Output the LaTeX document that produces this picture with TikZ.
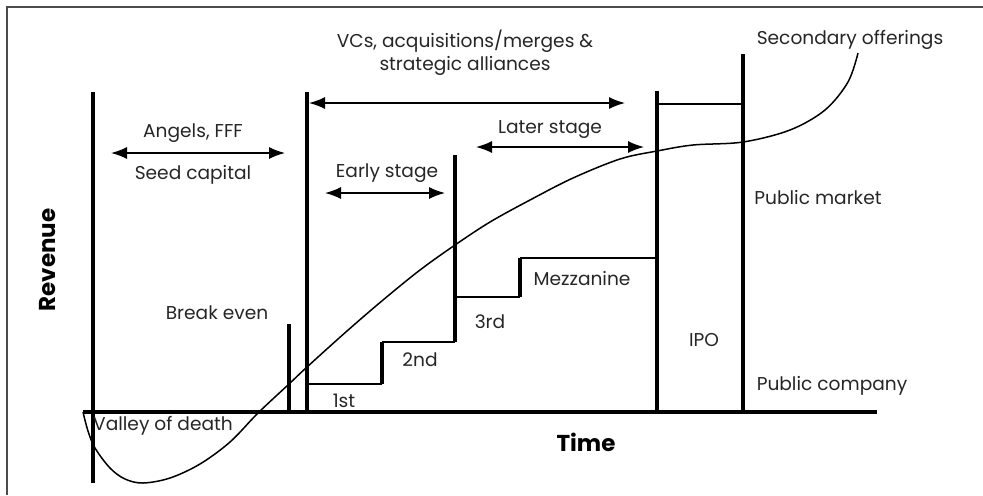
\documentclass[tikz,border=0pt]{standalone}
\usepackage{fontspec}
\setmainfont{Poppins}
\usetikzlibrary{arrows.meta}
\begin{document}
\begin{tikzpicture}[x=0.5pt,y=-0.5pt]
        \tikzset{bar/.style = {line width=1.6pt}}
        \tikzset{tread/.style = {line width=0.9pt}}
        \tikzset{span/.style = {{Latex[length=8pt,width=6pt]}-{Latex[length=8pt,width=6pt]}, line width=0.7pt}}
        \tikzset{lbl/.style = {font=\fontsize{9.3}{11.5}\selectfont, inner sep=0pt, text=black!85}}
        \tikzset{axlbl/.style = {font=\fontsize{11.5}{14}\selectfont\bfseries, inner sep=0pt}}

        \useasboundingbox (0,0) rectangle (983,495);

        \coordinate (f1) at (983,7);
        \coordinate (f2) at (7,7);
        \coordinate (f3) at (7,495);
        \draw[black!70, line width=0.6pt] (f1) -- (f2) -- (f3);

        \coordinate (ax0) at (83,412);
        \coordinate (ax1) at (877,412);

        \coordinate (v1a) at (93,92);
        \coordinate (v1b) at (93,483);
        \coordinate (bea) at (289,324);
        \coordinate (beb) at (289,412);
        \coordinate (v2a) at (307,92);
        \coordinate (v2b) at (307,412);
        \coordinate (v3a) at (455,155);
        \coordinate (v4a) at (657,91);
        \coordinate (v4b) at (657,412);
        \coordinate (v5a) at (743,54);
        \coordinate (v5b) at (743,412);

        \coordinate (s1) at (307,384);
        \coordinate (s2) at (382,384);
        \coordinate (s3) at (382,342);
        \coordinate (s4) at (455,342);
        \coordinate (s5) at (455,297);
        \coordinate (s6) at (520,297);
        \coordinate (s7) at (520,258);
        \coordinate (s8) at (657,258);

        \coordinate (ipoa) at (657,104);
        \coordinate (ipob) at (743,104);

        \coordinate (vca) at (309,103);
        \coordinate (vcb) at (625,103);
        \coordinate (ana) at (111,153);
        \coordinate (anb) at (285,153);
        \coordinate (esa) at (325,193);
        \coordinate (esb) at (445,193);
        \coordinate (lsa) at (476,147);
        \coordinate (lsb) at (644,147);

        \draw[bar] (v1a) -- (v1b);
        \draw[bar] (bea) -- (beb);
        \draw[bar] (v2a) -- (v2b);
        \draw[bar] (v3a) -- (s4);
        \draw[bar] (v4a) -- (v4b);
        \draw[bar] (v5a) -- (v5b);
        \draw[bar] (ax0) -- (ax1);

        \draw[tread] (s1) -- (s2);
        \draw[bar] (s2) -- (s3);
        \draw[tread] (s3) -- (s4);
        \draw[tread] (s5) -- (s6);
        \draw[bar] (s6) -- (s7);
        \draw[tread] (s7) -- (s8);
        \draw[line width=0.65pt] (ipoa) -- (ipob);

        \draw[span] (vca) -- (vcb);
        \draw[span] (ana) -- (anb);
        \draw[span] (esa) -- (esb);
        \draw[span] (lsa) -- (lsb);

        \draw[line width=0.75pt] plot[smooth, tension=0.55] coordinates {(83,412) (88,431) (95,448) (110,468) (125,479) (143,483) (170,478) (200,464) (230,442) (258,413) (289,384) (307,367) (347,331) (383,300) (420,270) (455,245) (490,222) (530,200) (573,178) (620,159) (657,151) (693,145) (743,142) (790,130) (825,110) (848,82) (858,53)};

        \node[lbl, align=center] (vcs) at (465,53) {VCs, acquisitions/merges \&\\strategic alliances};
        \node[lbl] (sec) at (850,40) {Secondary offerings};
        \node[lbl] (ang) at (193,133) {Angels, FFF};
        \node[lbl] (seed) at (193,175) {Seed capital};
        \node[lbl] (early) at (387,173) {Early stage};
        \node[lbl] (later) at (550,130) {Later stage};
        \node[lbl] (pubm) at (818,197) {Public market};
        \node[lbl] (brk) at (217,313) {Break even};
        \node[lbl] (mezz) at (582,278) {Mezzanine};
        \node[lbl] (third) at (490,322) {3rd};
        \node[lbl] (second) at (420,360) {2nd};
        \node[lbl] (first) at (344,401) {1st};
        \node[lbl] (ipo) at (704,340) {IPO};
        \node[lbl] (pubc) at (832,386) {Public company};
        \node[lbl] (valley) at (163,426) {Valley of death};
        \node[axlbl] (time) at (586,442) {Time};
        \node[axlbl, rotate=90] (rev) at (48,260) {Revenue};
\end{tikzpicture}
\end{document}
